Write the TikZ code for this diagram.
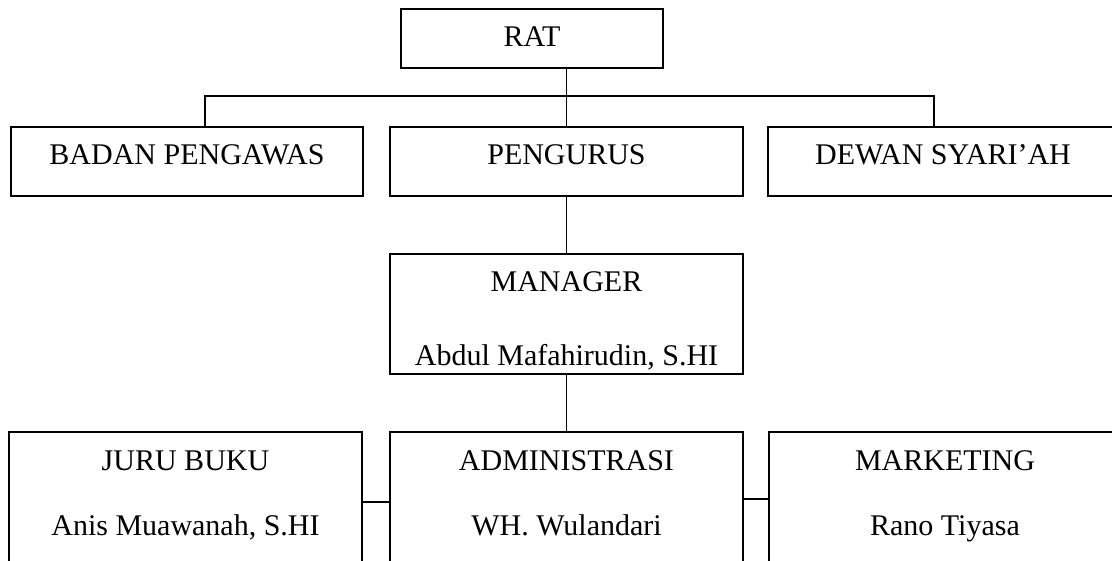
\documentclass[tikz,border=0pt]{standalone}
\usepackage{fontspec}
\setmainfont{Liberation Serif}
\begin{document}
\begin{tikzpicture}[x=1pt,y=-1pt,
  box/.style={draw=black,line width=1.6pt,rectangle,inner sep=0pt,fill=none},
  lbl/.style={anchor=base,inner sep=0pt,font=\fontsize{30}{36}\selectfont},
  conn/.style={draw=black,line width=1.6pt}]
\useasboundingbox (0,0) rectangle (1112,561);
\clip (0,0) rectangle (1112,561);
% boxes
\node[box,minimum width=262pt,minimum height=59pt] (rat) at (532,38.5) {};
\node[box,minimum width=352pt,minimum height=69pt] (badan) at (187,161.5) {};
\node[box,minimum width=353pt,minimum height=69pt] (pengurus) at (566.5,161.5) {};
\node[box,minimum width=350pt,minimum height=69pt] (dewan) at (943,161.5) {};
\node[box,minimum width=353pt,minimum height=120pt] (manager) at (566.5,314) {};
\node[box,minimum width=353pt,minimum height=188pt] (juru) at (185.5,526) {};
\node[box,minimum width=353pt,minimum height=188pt] (admin) at (566.5,526) {};
\node[box,minimum width=352pt,minimum height=188pt] (marketing) at (945,526) {};
% texts
\node[lbl] (tRat) at (532,47) {RAT};
\node[lbl] (tBadan) at (187,165) {BADAN PENGAWAS};
\node[lbl] (tPengurus) at (566.5,165) {PENGURUS};
\node[lbl] (tDewan) at (943,165) {DEWAN SYARI’AH};
\node[lbl] (tManager) at (566.5,292) {MANAGER};
\node[lbl] (tManagerN) at (566.5,366) {Abdul Mafahirudin, S.HI};
\node[lbl] (tJuru) at (185.5,471) {JURU BUKU};
\node[lbl] (tJuruN) at (185.5,535) {Anis Muawanah, S.HI};
\node[lbl] (tAdmin) at (566.5,471) {ADMINISTRASI};
\node[lbl] (tAdminN) at (566.5,535) {WH. Wulandari};
\node[lbl] (tMarketing) at (945,471) {MARKETING};
\node[lbl] (tMarketingN) at (945,535) {Rano Tiyasa};
% connectors
\coordinate (bl) at (205,96);
\coordinate (br) at (934,96);
\coordinate (r1) at (0,502);
\coordinate (r2) at (0,499);
\draw[conn] (rat.south -| pengurus.north) -- (pengurus.north);
\draw[conn] (bl |- badan.north) -- (bl) -- (br) -- (br |- dewan.north);
\draw[conn] (pengurus.south) -- (manager.north);
\draw[conn] (manager.south) -- (admin.north);
\draw[conn] (juru.east |- r1) -- (admin.west |- r1);
\draw[conn] (admin.east |- r2) -- (marketing.west |- r2);
\end{tikzpicture}
\end{document}
